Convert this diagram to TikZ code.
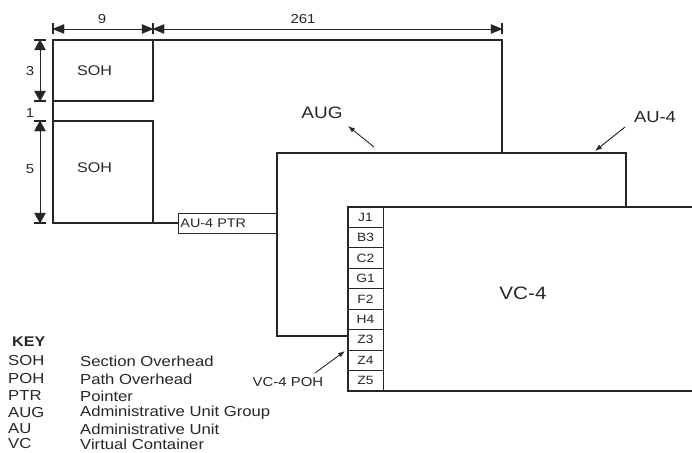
\documentclass[tikz,border=0pt]{standalone}
\usepackage{fontspec}
\setmainfont{Liberation Sans}[FakeStretch=1.15]
\usetikzlibrary{arrows.meta}
\newcommand{\fs}[1]{\fontsize{#1}{#1}\selectfont}
\begin{document}
\begin{tikzpicture}[x=1pt,y=-1pt,
  ln/.style={line width=1.1pt, draw=black!85},
  dimline/.style={line width=0.9pt, draw=black!85},
  head/.style={fill=black!85, draw=black!85, line width=0.4pt},
  tick/.style={line width=1.3pt, draw=black!85},
  ptr/.style={line width=0.9pt, draw=black!85, -{Latex[length=7pt,width=5pt]}},
  txt/.style={inner sep=0pt, text=black!85},
  cell/.style={draw=black!85, line width=0.9pt, minimum width=35pt, minimum height=20.44pt, inner sep=0pt, font=\fs{12}, text=black!85},
  keyt/.style={txt, anchor=west, font=\fs{14.5}}
]
\useasboundingbox (0,0) rectangle (692,452);

% coordinates of outlines
\coordinate (f1) at (53,40);
\coordinate (f2) at (502,40);
\coordinate (f3) at (502,153);
\coordinate (f4) at (53,223);
\coordinate (g1) at (277,153);
\coordinate (g2) at (626,153);
\coordinate (g3) at (626,207);
\coordinate (g4) at (277,336);
\coordinate (v1) at (348,207);
\coordinate (v2) at (692,207);
\coordinate (v3) at (348,391);
\coordinate (v4) at (692,391);

% STM-1 frame outline
\draw[ln] (f3) -- (f2) -- (f1) -- (f4) -- (178,223);
% SOH boxes
\draw[ln] (53,101) -- (153,101) -- (153,40);
\draw[ln] (53,121) -- (153,121) -- (153,223);
\node[txt, anchor=west, font=\fs{14}] (soh1) at (77,71) {SOH};
\node[txt, anchor=west, font=\fs{14}] (soh2) at (77,168) {SOH};

% AU-4 PTR
\node[draw=black!85, line width=0.9pt, minimum height=20pt, text width=95pt, inner xsep=2pt, inner ysep=0pt, align=left, font=\fs{12.5}, text=black!85, anchor=west] (aptr) at (178,223) {AU-4 PTR};

% AUG / AU-4 outline
\draw[ln] (g3) -- (g2) -- (g1) -- (g4) -- (348,336);

% VC-4
\draw[ln] (v2) -- (v1) -- (v3) -- (v4);
\node[txt, font=\fs{18}] (vc4) at (523,293) {VC-4};

% POH column
\foreach \t [count=\i] in {J1,B3,C2,G1,F2,H4,Z3,Z4,Z5}
  \node[cell] (poh\i) at (365.5,{207+20.44*(\i-0.5)}) {\t};

% dimensions (horizontal)
\coordinate (d0) at (53,29);
\coordinate (d1) at (153,29);
\coordinate (d2) at (502,29);
\draw[dimline] (d0) -- (d1);
\draw[dimline] (d1) -- (d2);
\fill[head] (d0) -- ++(11,-4.5) -- ++(0,9) -- cycle;
\fill[head] (d1) -- ++(-11,-4.5) -- ++(0,9) -- cycle;
\fill[head] (d1) -- ++(11,-4.5) -- ++(0,9) -- cycle;
\fill[head] (d2) -- ++(-11,-4.5) -- ++(0,9) -- cycle;
\foreach \c in {d0,d1,d2}
  \draw[tick] ([yshift=-5.5pt]\c) -- ([yshift=5.5pt]\c);
\node[txt, font=\fs{13}] (n9) at (102,19) {9};
\node[txt, font=\fs{13}] (n261) at (303,19) {261};

% dimensions (vertical)
\coordinate (e0) at (40,40);
\coordinate (e1) at (40,101);
\coordinate (e2) at (40,121);
\coordinate (e3) at (40,223);
\draw[dimline] (e0) -- (e1);
\draw[dimline] (e2) -- (e3);
\fill[head] (e0) -- ++(-5.5,10) -- ++(11,0) -- cycle;
\fill[head] (e1) -- ++(-5.5,-10) -- ++(11,0) -- cycle;
\fill[head] (e2) -- ++(-5.5,10) -- ++(11,0) -- cycle;
\fill[head] (e3) -- ++(-5.5,-10) -- ++(11,0) -- cycle;
\foreach \c in {e0,e1,e2,e3}
  \draw[tick] ([xshift=-6pt]\c) -- ([xshift=6pt]\c);
\node[txt, font=\fs{13}] (n3) at (30,71) {3};
\node[txt, font=\fs{13}] (n1) at (30,113) {1};
\node[txt, font=\fs{13}] (n5) at (30,169) {5};

% labels with pointers
\node[txt, font=\fs{16.5}] (aug) at (322,113) {AUG};
\coordinate (augt) at (374,147);
\coordinate (augh) at (348,126);
\draw[ptr] (augt) -- (augh);

\node[txt, font=\fs{16}] (au4) at (655,117) {AU-4};
\coordinate (au4t) at (625,127);
\coordinate (au4h) at (595,151);
\draw[ptr] (au4t) -- (au4h);

\node[txt, font=\fs{13}] (vcpoh) at (288,382) {VC-4 POH};
\coordinate (vpt) at (315,373);
\coordinate (vph) at (345,351);
\draw[ptr] (vpt) -- (vph);

% key
\node[txt, anchor=west, font=\fs{14}\bfseries] (key) at (12,342) {KEY};
\foreach \a/\b/\y [count=\i] in {SOH/Section Overhead/361, POH/Path Overhead/379, PTR/Pointer/396, AUG/Administrative Unit Group/413, AU/Administrative Unit/429, VC/Virtual Container/444}{
  \node[keyt] (ka\i) at (8,\y) {\a};
  \node[keyt] (kb\i) at (80,\y) {\b};
}
\end{tikzpicture}
\end{document}
